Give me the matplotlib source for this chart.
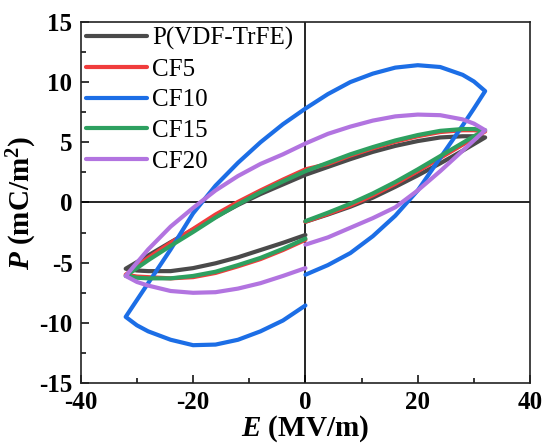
import matplotlib.pyplot as plt

# field grids for the three branches of each loop (MV/m)
E_rise = [0, 4, 8, 12, 16, 20, 24, 28, 30, 32]
E_fall = [32, 30, 28, 24, 20, 16, 12, 8, 4, 0, -4, -8, -12, -16, -20, -24, -28, -30, -32]
E_back = [-32, -30, -28, -24, -20, -16, -12, -8, -4, 0]

# polarization (mC/m^2)
pvdf_rise = [-1.6, -1.0, -0.35, 0.4, 1.3, 2.25, 3.25, 4.3, 4.85, 5.4]
pvdf_fall = [5.4, 5.5, 5.5, 5.4, 5.1, 4.7, 4.2, 3.6, 2.95, 2.3, 1.5, 0.7, -0.2, -1.2, -2.25, -3.3, -4.4, -4.95, -5.5]
pvdf_back = [-5.5, -5.65, -5.7, -5.7, -5.45, -5.05, -4.55, -3.95, -3.35, -2.7]

cf5_rise = [-1.6, -0.95, -0.25, 0.6, 1.55, 2.6, 3.7, 4.8, 5.35, 5.9]
cf5_fall = [5.9, 6.0, 6.0, 5.85, 5.5, 5.05, 4.5, 3.9, 3.2, 2.75, 1.9, 1.0, 0.05, -1.0, -2.2, -3.35, -4.6, -5.3, -6.0]
cf5_back = [-6.0, -6.15, -6.2, -6.3, -6.2, -5.85, -5.3, -4.7, -3.95, -3.1]

cf10_rise = [-6.0, -5.2, -4.2, -2.8, -1.1, 1.0, 3.7, 6.4, 7.8, 9.25]
cf10_fall = [9.25, 10.05, 10.6, 11.25, 11.4, 11.2, 10.7, 10.0, 9.0, 7.8, 6.5, 5.0, 3.3, 1.4, -0.9, -3.9, -6.7, -8.1, -9.5]
cf10_back = [-9.5, -10.2, -10.7, -11.4, -11.85, -11.8, -11.4, -10.7, -9.8, -8.55]

cf15_rise = [-1.55, -0.85, -0.1, 0.75, 1.7, 2.75, 3.85, 4.95, 5.5, 6.0]
cf15_fall = [6.0, 6.1, 6.1, 5.95, 5.6, 5.15, 4.6, 4.0, 3.3, 2.6, 1.75, 0.85, -0.15, -1.25, -2.45, -3.6, -4.8, -5.45, -6.1]
cf15_back = [-6.1, -6.25, -6.3, -6.3, -6.1, -5.75, -5.2, -4.6, -3.85, -3.0]

cf20_rise = [-3.5, -2.9, -2.1, -1.3, -0.4, 1.0, 2.6, 4.3, 5.15, 6.0]
cf20_fall = [6.0, 6.55, 6.9, 7.25, 7.3, 7.15, 6.8, 6.3, 5.7, 4.9, 4.0, 3.2, 2.2, 1.0, -0.45, -2.0, -3.9, -5.0, -6.1]
cf20_back = [-6.1, -6.6, -6.9, -7.35, -7.5, -7.45, -7.15, -6.7, -6.1, -5.45]

labels = ['P(VDF-TrFE)', 'CF5', 'CF10', 'CF15', 'CF20']
colors = ['#4a4a4a', '#f03c3c', '#1c6ee6', '#2ea060', '#b274e0']
loops = [
  (pvdf_rise, pvdf_fall, pvdf_back),
  (cf5_rise, cf5_fall, cf5_back),
  (cf10_rise, cf10_fall, cf10_back),
  (cf15_rise, cf15_fall, cf15_back),
  (cf20_rise, cf20_fall, cf20_back),
]

plt.rcParams['font.family'] = ['Liberation Serif', 'DejaVu Serif']
plt.rcParams['axes.unicode_minus'] = False
plt.rcParams['mathtext.fontset'] = 'custom'
plt.rcParams['mathtext.rm'] = 'Liberation Serif:bold'
plt.rcParams['mathtext.it'] = 'Liberation Serif:italic:bold'
plt.rcParams['mathtext.bf'] = 'Liberation Serif:bold'

fig = plt.figure(figsize=(5.42, 4.46), dpi=100)
ax = fig.add_axes([0.149, 0.141, 0.829, 0.810])

ax.axhline(0, color='black', lw=1.2, zorder=1)
ax.axvline(0, color='black', lw=1.2, zorder=1)

for (rise, fall, back), lab, col in zip(loops, labels, colors):
  E = E_rise + E_fall[1:] + E_back[1:]
  P = rise + fall[1:] + back[1:]
  ax.plot(E, P, color=col, lw=3, label=lab, solid_joinstyle='round',
          solid_capstyle='round', zorder=2)

ax.set_xlim(-40, 40)
ax.set_ylim(-15, 15)
ax.set_xticks([-40, -20, 0, 20, 40])
ax.set_yticks([-15, -10, -5, 0, 5, 10, 15])
ax.set_xticks([-30, -10, 10, 30], minor=True)
ax.set_yticks([-12.5, -7.5, -2.5, 2.5, 7.5, 12.5], minor=True)
ax.tick_params(which='major', direction='in', length=6, width=1.1,
               labelsize=18, pad=6)
ax.tick_params(which='minor', direction='in', length=3.5, width=1.1)
for lbl in ax.get_xticklabels() + ax.get_yticklabels():
  lbl.set_fontweight('bold')
for sp in ax.spines.values():
  sp.set_linewidth(1.2)
  sp.set_color('#222222')

ax.set_xlabel(r'$E$ (MV/m)', fontsize=21, fontweight='bold', labelpad=-1)
ax.set_ylabel(r'$P$ (mC/m$^2$)', fontsize=21, fontweight='bold', labelpad=0)

ax.legend(loc='upper left', frameon=False, fontsize=18, handlelength=2.45,
          handletextpad=0.2, labelspacing=0.33, borderaxespad=0.1,
          borderpad=0.1)

fig.savefig('out.png', dpi=100)
plt.close(fig)
